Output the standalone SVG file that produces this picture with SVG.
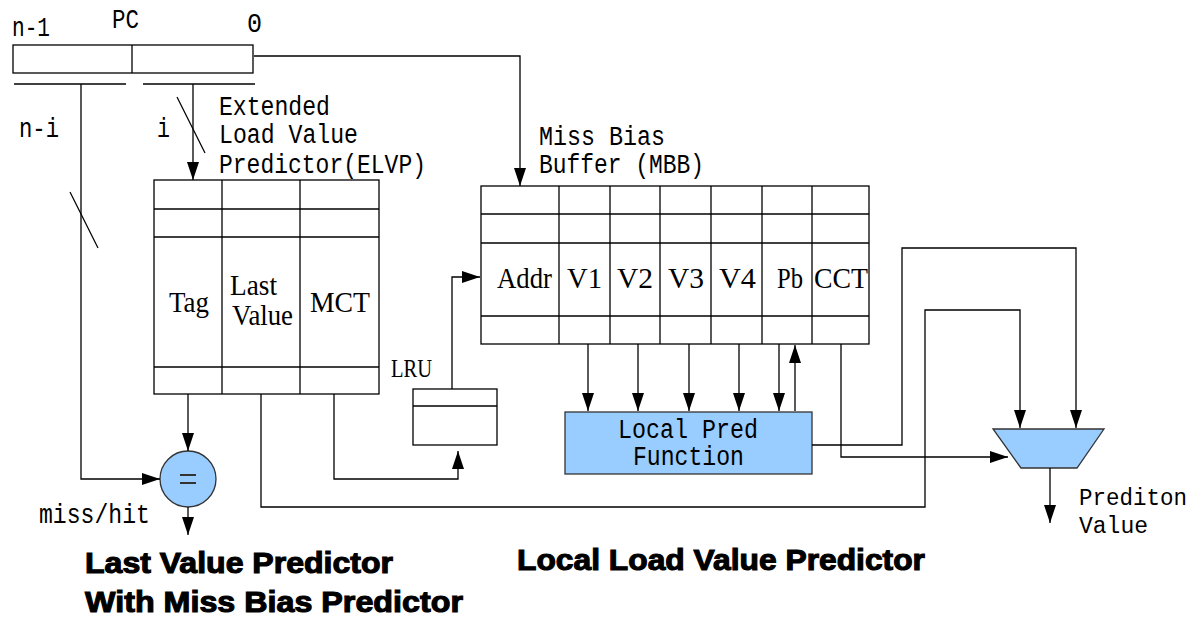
<svg xmlns="http://www.w3.org/2000/svg" width="1200" height="619" viewBox="0 0 1200 619">
<style>
.ln{fill:none;stroke:#000;stroke-width:1.3}
.bx{fill:#fff;stroke:#000;stroke-width:1.3}
.bl{fill:#99CCFF;stroke:#333;stroke-width:1.3}
.mono{font-family:"Liberation Mono","DejaVu Sans Mono",monospace;font-size:27px;fill:#000}
.ser{font-family:"Liberation Serif","DejaVu Serif",serif;font-size:29px;fill:#000}
.bold{font-family:"Liberation Sans","DejaVu Sans",sans-serif;font-weight:900;font-size:29px;fill:#000;stroke:#000;stroke-width:1.1}
</style>
<defs>
<marker id="ah" markerUnits="userSpaceOnUse" viewBox="0 0 18 12" refX="18" refY="6" markerWidth="18" markerHeight="12" orient="auto">
<path d="M0,0 L18,6 L0,12 Z" fill="#000"/>
</marker>
</defs>
<rect width="1200" height="619" fill="#fff"/>

<g id="pc">
<rect class="bx" x="13" y="45" width="240" height="28"/>
<line class="ln" x1="132" y1="45" x2="132" y2="73"/>
<text class="mono" x="12" y="36" textLength="38" lengthAdjust="spacingAndGlyphs">n-1</text>
<text class="mono" x="112" y="28" textLength="27" lengthAdjust="spacingAndGlyphs">PC</text>
<text class="mono" x="247" y="32" textLength="15" lengthAdjust="spacingAndGlyphs">0</text>
<line class="ln" x1="14" y1="84" x2="126" y2="84"/>
<line class="ln" x1="143" y1="84" x2="255" y2="84"/>
<text class="mono" x="19" y="137" textLength="40" lengthAdjust="spacingAndGlyphs">n-i</text>
<text class="mono" x="157" y="137" textLength="13" lengthAdjust="spacingAndGlyphs">i</text>
<line class="ln" x1="177" y1="97" x2="205" y2="153"/>
<line class="ln" x1="70" y1="192" x2="98" y2="248"/>
</g>

<g id="elvp">
<text class="mono" x="219" y="115" textLength="111" lengthAdjust="spacingAndGlyphs">Extended</text>
<text class="mono" x="219" y="143" textLength="139" lengthAdjust="spacingAndGlyphs">Load Value</text>
<text class="mono" x="219" y="173" textLength="207" lengthAdjust="spacingAndGlyphs">Predictor(ELVP)</text>
<rect class="bx" x="154" y="180" width="225" height="214"/>
<line class="ln" x1="154" y1="209" x2="379" y2="209"/>
<line class="ln" x1="154" y1="237" x2="379" y2="237"/>
<line class="ln" x1="154" y1="367" x2="379" y2="367"/>
<line class="ln" x1="222" y1="180" x2="222" y2="394"/>
<line class="ln" x1="300" y1="180" x2="300" y2="394"/>
<text class="ser" x="169" y="312" textLength="40" lengthAdjust="spacingAndGlyphs">Tag</text>
<text class="ser" x="230" y="295" textLength="47" lengthAdjust="spacingAndGlyphs">Last</text>
<text class="ser" x="232" y="325" textLength="61" lengthAdjust="spacingAndGlyphs">Value</text>
<text class="ser" x="310" y="312" textLength="60" lengthAdjust="spacingAndGlyphs">MCT</text>
</g>

<g id="compare">
<circle class="bl" cx="188" cy="479" r="28"/>
<line x1="180" y1="475" x2="196" y2="475" stroke="#333" stroke-width="2"/>
<line x1="180" y1="483" x2="196" y2="483" stroke="#333" stroke-width="2"/>
<text class="mono" x="39" y="523" textLength="111" lengthAdjust="spacingAndGlyphs">miss/hit</text>
</g>

<g id="lru">
<text class="ser" x="391" y="377" style="font-size:25px" textLength="41" lengthAdjust="spacingAndGlyphs">LRU</text>
<rect class="bx" x="413" y="389" width="84" height="56"/>
<line class="ln" x1="413" y1="406" x2="497" y2="406"/>
</g>

<g id="mbb">
<text class="mono" x="539" y="145" textLength="126" lengthAdjust="spacingAndGlyphs">Miss Bias</text>
<text class="mono" x="539" y="173" textLength="165" lengthAdjust="spacingAndGlyphs">Buffer (MBB)</text>
<rect class="bx" x="481" y="186" width="388" height="158"/>
<line class="ln" x1="481" y1="214" x2="869" y2="214"/>
<line class="ln" x1="481" y1="243" x2="869" y2="243"/>
<line class="ln" x1="481" y1="316" x2="869" y2="316"/>
<line class="ln" x1="559" y1="186" x2="559" y2="344"/>
<line class="ln" x1="610" y1="186" x2="610" y2="344"/>
<line class="ln" x1="660" y1="186" x2="660" y2="344"/>
<line class="ln" x1="711" y1="186" x2="711" y2="344"/>
<line class="ln" x1="762" y1="186" x2="762" y2="344"/>
<line class="ln" x1="812" y1="186" x2="812" y2="344"/>
<text class="ser" x="497" y="288" textLength="55" lengthAdjust="spacingAndGlyphs">Addr</text>
<text class="ser" x="567" y="288" textLength="35" lengthAdjust="spacingAndGlyphs">V1</text>
<text class="ser" x="617" y="288" textLength="36" lengthAdjust="spacingAndGlyphs">V2</text>
<text class="ser" x="668" y="288" textLength="36" lengthAdjust="spacingAndGlyphs">V3</text>
<text class="ser" x="719" y="288" textLength="37" lengthAdjust="spacingAndGlyphs">V4</text>
<text class="ser" x="777" y="288" textLength="26" lengthAdjust="spacingAndGlyphs">Pb</text>
<text class="ser" x="814" y="288" textLength="54" lengthAdjust="spacingAndGlyphs">CCT</text>
</g>

<g id="localpred">
<rect class="bl" x="565" y="412" width="247" height="62"/>
<text class="mono" x="618" y="438" textLength="140" lengthAdjust="spacingAndGlyphs">Local Pred</text>
<text class="mono" x="633" y="465" textLength="111" lengthAdjust="spacingAndGlyphs">Function</text>
</g>

<g id="mux">
<polygon class="bl" points="993,429 1104,429 1077,468 1021,468"/>
<text class="mono" x="1079" y="505" style="font-size:23px" textLength="108" lengthAdjust="spacingAndGlyphs">Prediton</text>
<text class="mono" x="1079" y="533" style="font-size:23px" textLength="69" lengthAdjust="spacingAndGlyphs">Value</text>
</g>

<g id="connectors">
<polyline class="ln" points="254,56 520,56 520,186" marker-end="url(#ah)"/>
<line class="ln" x1="193" y1="84" x2="193" y2="180" marker-end="url(#ah)"/>
<polyline class="ln" points="81,84 81,479 160,479" marker-end="url(#ah)"/>
<line class="ln" x1="188" y1="394" x2="188" y2="451" marker-end="url(#ah)"/>
<line class="ln" x1="188" y1="507" x2="188" y2="535" marker-end="url(#ah)"/>
<polyline class="ln" points="334,394 334,479 458,479 458,451" marker-end="url(#ah)"/>
<polyline class="ln" points="452,389 452,277 480,277" marker-end="url(#ah)"/>
<line class="ln" x1="588" y1="344" x2="588" y2="411" marker-end="url(#ah)"/>
<line class="ln" x1="638" y1="344" x2="638" y2="411" marker-end="url(#ah)"/>
<line class="ln" x1="689" y1="344" x2="689" y2="411" marker-end="url(#ah)"/>
<line class="ln" x1="739" y1="344" x2="739" y2="411" marker-end="url(#ah)"/>
<line class="ln" x1="779" y1="344" x2="779" y2="411" marker-end="url(#ah)"/>
<line class="ln" x1="795" y1="411" x2="795" y2="345" marker-end="url(#ah)"/>
<polyline class="ln" points="812,445 902,445 902,248 1076,248 1076,428" marker-end="url(#ah)"/>
<polyline class="ln" points="261,394 261,507 925,507 925,310 1020,310 1020,428" marker-end="url(#ah)"/>
<polyline class="ln" points="841,344 841,457 1008,457" marker-end="url(#ah)"/>
<line class="ln" x1="1050" y1="468" x2="1050" y2="523" marker-end="url(#ah)"/>
</g>

<g id="titles">
<text class="bold" x="85" y="573" textLength="308" lengthAdjust="spacingAndGlyphs">Last Value Predictor</text>
<text class="bold" x="85" y="612" textLength="378" lengthAdjust="spacingAndGlyphs">With Miss Bias Predictor</text>
<text class="bold" x="517" y="570" textLength="408" lengthAdjust="spacingAndGlyphs">Local Load Value Predictor</text>
</g>
</svg>
